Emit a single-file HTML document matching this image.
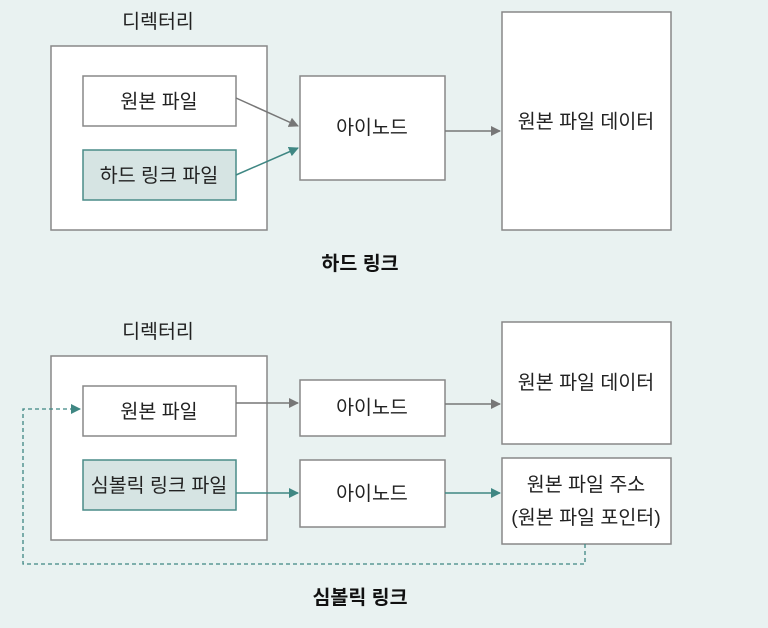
<!DOCTYPE html>
<html><head><meta charset="utf-8"><style>
body{margin:0;background:#e9f2f1;}
svg{display:block;font-family:"Liberation Sans","Noto Sans CJK KR",sans-serif;}
</style></head><body>
<svg width="768" height="628" viewBox="0 0 768 628">
<defs>
<marker id="ag" markerWidth="10" markerHeight="10" refX="9" refY="5" orient="auto" markerUnits="userSpaceOnUse"><path d="M0,0 L10,5 L0,10 z" fill="#777"/></marker>
<marker id="at" markerWidth="10" markerHeight="10" refX="9" refY="5" orient="auto" markerUnits="userSpaceOnUse"><path d="M0,0 L10,5 L0,10 z" fill="#3f8783"/></marker>
</defs>
<rect width="768" height="628" fill="#e9f2f1"/>
<g font-size="19.5" fill="#222" text-anchor="middle">
<text x="158" y="28">디렉터리</text>
<rect x="51" y="46" width="216" height="184" fill="#fff" stroke="#888" stroke-width="1.5"/>
<rect x="83" y="76" width="153" height="50" fill="#fff" stroke="#888" stroke-width="1.5"/>
<text x="159" y="108">원본 파일</text>
<rect x="83" y="150" width="153" height="50" fill="#d6e4e3" stroke="#4a8c88" stroke-width="1.5"/>
<text x="159" y="182">하드 링크 파일</text>
<rect x="300" y="76" width="145" height="104" fill="#fff" stroke="#888" stroke-width="1.5"/>
<text x="372" y="134">아이노드</text>
<rect x="502" y="12" width="169" height="218" fill="#fff" stroke="#888" stroke-width="1.5"/>
<text x="586" y="128">원본 파일 데이터</text>
<line x1="236" y1="98" x2="298" y2="126" stroke="#777" stroke-width="1.5" marker-end="url(#ag)"/>
<line x1="236" y1="175" x2="298" y2="148" stroke="#3f8783" stroke-width="1.5" marker-end="url(#at)"/>
<line x1="445" y1="131" x2="500" y2="131" stroke="#777" stroke-width="1.5" marker-end="url(#ag)"/>
<text x="360" y="270" font-weight="bold" fill="#111">하드 링크</text>
<text x="158" y="338">디렉터리</text>
<rect x="51" y="356" width="216" height="184" fill="#fff" stroke="#888" stroke-width="1.5"/>
<rect x="83" y="386" width="153" height="50" fill="#fff" stroke="#888" stroke-width="1.5"/>
<text x="159" y="418">원본 파일</text>
<rect x="83" y="460" width="153" height="50" fill="#d6e4e3" stroke="#4a8c88" stroke-width="1.5"/>
<text x="159" y="492">심볼릭 링크 파일</text>
<rect x="300" y="380" width="145" height="56" fill="#fff" stroke="#888" stroke-width="1.5"/>
<text x="372" y="414">아이노드</text>
<rect x="300" y="460" width="145" height="67" fill="#fff" stroke="#888" stroke-width="1.5"/>
<text x="372" y="500">아이노드</text>
<rect x="502" y="322" width="169" height="122" fill="#fff" stroke="#888" stroke-width="1.5"/>
<text x="586" y="389">원본 파일 데이터</text>
<rect x="502" y="458" width="169" height="86" fill="#fff" stroke="#888" stroke-width="1.5"/>
<text x="586" y="491">원본 파일 주소</text>
<text x="586" y="524">(원본 파일 포인터)</text>
<line x1="236" y1="403" x2="298" y2="403" stroke="#777" stroke-width="1.5" marker-end="url(#ag)"/>
<line x1="445" y1="404" x2="500" y2="404" stroke="#777" stroke-width="1.5" marker-end="url(#ag)"/>
<line x1="236" y1="493" x2="298" y2="493" stroke="#3f8783" stroke-width="1.5" marker-end="url(#at)"/>
<line x1="445" y1="493" x2="500" y2="493" stroke="#3f8783" stroke-width="1.5" marker-end="url(#at)"/>
<polyline points="585,544 585,564 23,564 23,409 80,409" fill="none" stroke="#3f8783" stroke-width="1.3" stroke-dasharray="4,3" marker-end="url(#at)"/>
<text x="360" y="604" font-weight="bold" fill="#111">심볼릭 링크</text>
</g>
</svg>
</body></html>
